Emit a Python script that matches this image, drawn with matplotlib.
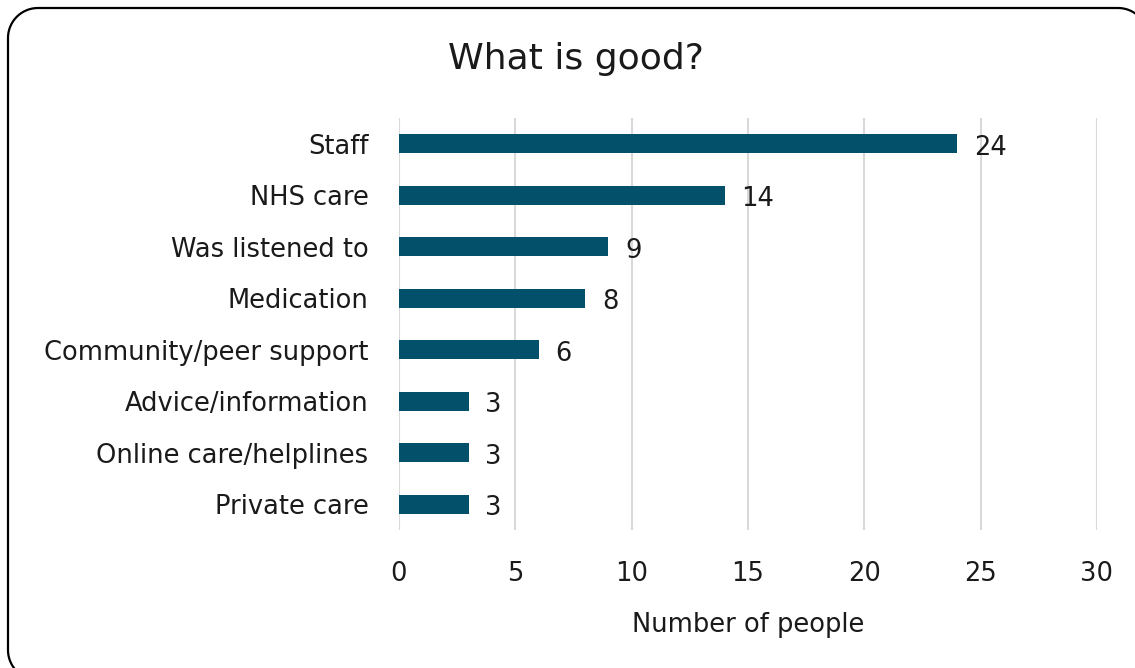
import numpy as np
import matplotlib.pyplot as plt
from matplotlib.patches import Polygon

# Responses: what is good?
categories = [
    "Staff",
    "NHS care",
    "Was listened to",
    "Medication",
    "Community/peer support",
    "Advice/information",
    "Online care/helplines",
    "Private care",
]
counts = [24, 14, 9, 8, 6, 3, 3, 3]

plt.rcParams["font.family"] = ["DejaVu Sans"]
txt = "#1a1a1a"
fs = 18.5

W, H = 1135, 668
fig = plt.figure(figsize=(W / 100, H / 100), dpi=100)
ax = fig.add_axes([0.3515, 0.2066, 0.6150, 0.6168])

bar_color = "#03506b"
y = range(len(categories))
bars = ax.barh(y, counts, height=0.37, color=bar_color, zorder=3)

for bar, val in zip(bars, counts):
    ax.annotate(
        f"{val}",
        (val, bar.get_y() + bar.get_height() / 2),
        xytext=(12, -3),
        textcoords="offset points",
        va="center",
        ha="left",
        fontsize=fs,
        color=txt,
    )

ax.set_xlim(0, 30)
ax.set_ylim(len(categories) - 0.5, -0.5)
ax.set_yticks(list(y))
ax.set_yticklabels(categories, fontsize=fs, color=txt)
ax.set_xticks(range(0, 31, 5))
ax.tick_params(axis="x", labelsize=fs, colors=txt, length=0, pad=22)
ax.tick_params(axis="y", length=0, pad=22)
ax.grid(axis="x", color="#d9d9d9", linewidth=1.5, zorder=0)
for side in ax.spines.values():
    side.set_visible(False)

ax.set_xlabel("Number of people", fontsize=fs, color=txt, labelpad=18)
fig.text(0.507, 0.912, "What is good?", ha="center", va="center",
         fontsize=26, color=txt)


# rounded frame as a polyline (pixels), runs past the right/bottom edges
def rounded_frame(x0, y0, x1, y1, r, n=24):
    pts = []
    corners = [
        (x1 - r, y1 - r, 0),      # top right
        (x0 + r, y1 - r, 90),     # top left
        (x0 + r, y0 + r, 180),    # bottom left
        (x1 - r, y0 + r, 270),    # bottom right
    ]
    for cx, cy, start in corners:
        t = np.radians(np.linspace(start, start + 90, n))
        pts.extend(zip(cx + r * np.cos(t), cy + r * np.sin(t)))
    pts = np.array(pts)
    return np.column_stack([pts[:, 0] / W, pts[:, 1] / H])


frame = Polygon(
    rounded_frame(8, -12, 1148, H - 8, 30), closed=True,
    transform=fig.transFigure, facecolor="none",
    edgecolor="black", linewidth=1.6,
)
fig.patches.append(frame)

fig.savefig("out.png", dpi=100)
